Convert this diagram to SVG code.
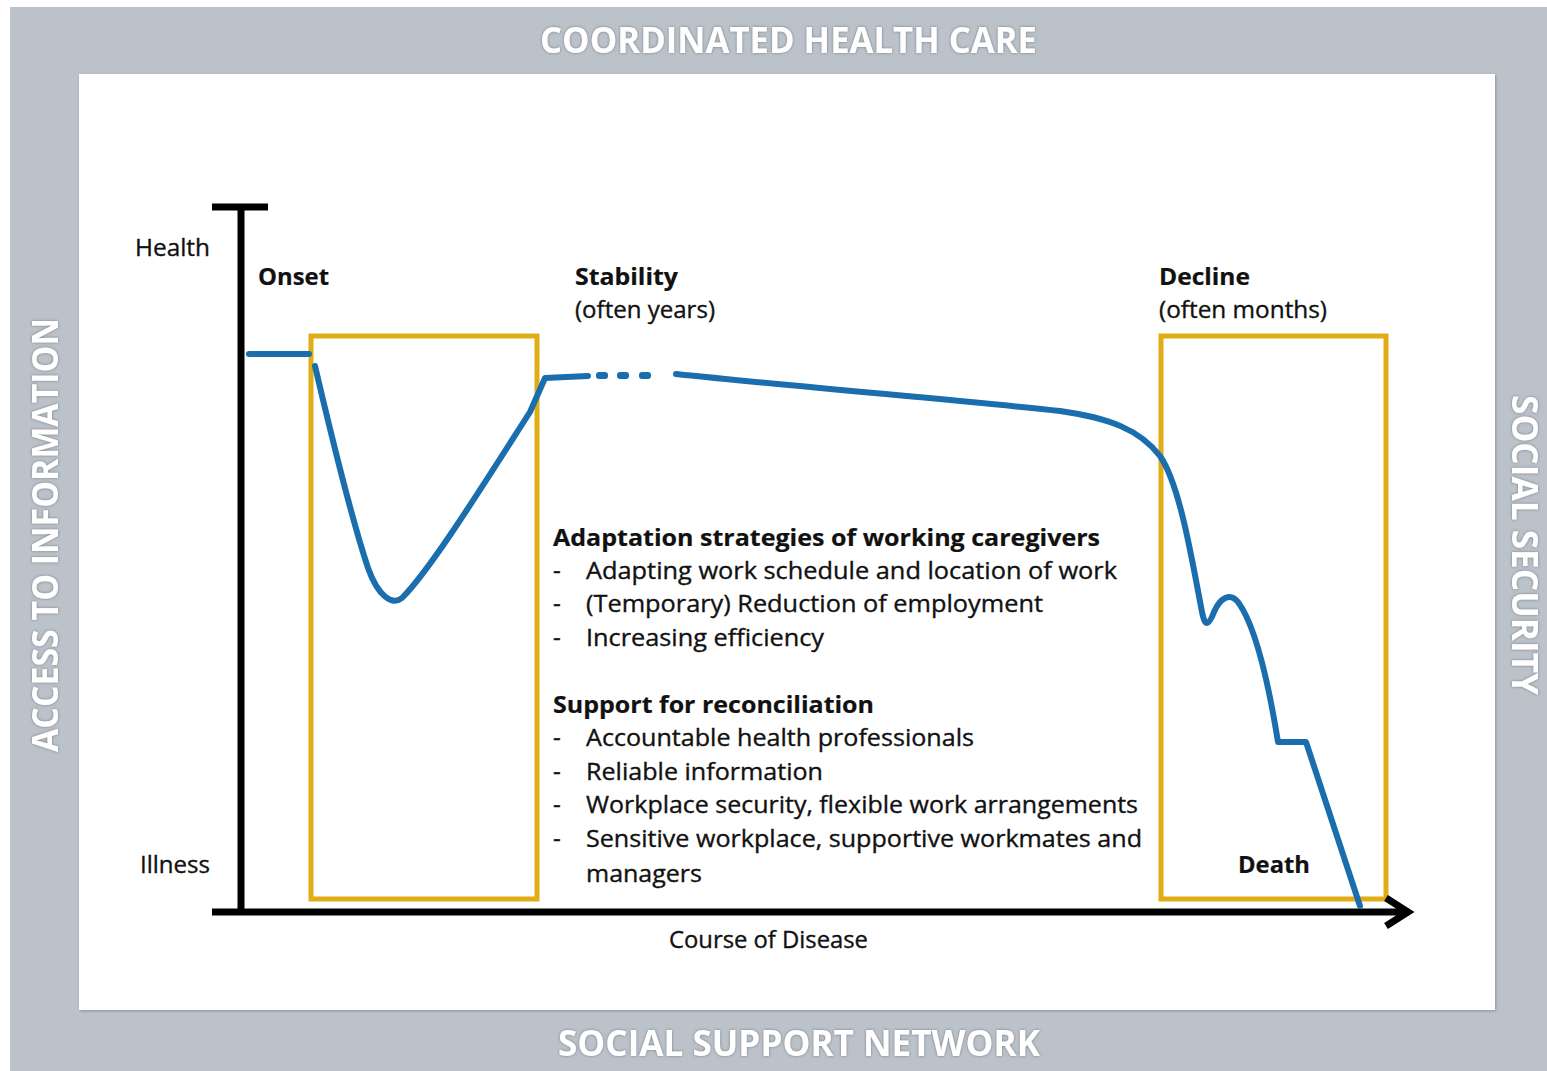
<svg xmlns="http://www.w3.org/2000/svg" width="1547" height="1071" viewBox="0 0 1547 1071">
  <style>
    .band { font-family: "Open Sans", "Noto Sans", "Liberation Sans", sans-serif; font-weight: 700; font-size: 36px; fill: #ffffff; }
    .lbl { font-family: "Open Sans", "Noto Sans", "Liberation Sans", sans-serif; font-size: 24px; fill: #111111; stroke: #111111; stroke-width: 0.35px; }
    .bold { font-weight: 700; stroke-width: 0.2px; }
    .box { fill: none; stroke: #e2ad14; stroke-width: 5; }
    .curve { fill: none; stroke: #1b6eae; stroke-width: 6; stroke-linecap: round; stroke-linejoin: round; }
    .axis { fill: none; stroke: #000000; stroke-width: 7; }
  </style>
  <defs>
    <filter id="glow" x="-10%" y="-40%" width="120%" height="180%">
      <feDropShadow dx="0" dy="0" stdDeviation="1.6" flood-color="#6f767d" flood-opacity="0.9"/>
    </filter>
    <filter id="panelShadow" x="-5%" y="-5%" width="110%" height="110%">
      <feDropShadow dx="1" dy="1" stdDeviation="1.5" flood-color="#7d848b" flood-opacity="0.8"/>
    </filter>
  </defs>

  <!-- page background and grey frame -->
  <rect x="0" y="0" width="1547" height="1071" fill="#ffffff"/>
  <rect x="10" y="7" width="1537" height="1064" fill="#bbc2ca"/>
  <rect x="79" y="74" width="1416" height="936" fill="#ffffff" filter="url(#panelShadow)"/>

  <!-- frame captions -->
  <g id="coordinated-health-care">
    <text class="band" x="540" y="53" textLength="497" lengthAdjust="spacingAndGlyphs" filter="url(#glow)">COORDINATED HEALTH CARE</text>
  </g>
  <g id="social-support-network">
    <text class="band" x="558" y="1056" textLength="482" lengthAdjust="spacingAndGlyphs" filter="url(#glow)">SOCIAL SUPPORT NETWORK</text>
  </g>
  <g id="access-to-information">
    <text class="band" transform="translate(58 752) rotate(-90)" x="0" y="0" textLength="434" lengthAdjust="spacingAndGlyphs" filter="url(#glow)">ACCESS TO INFORMATION</text>
  </g>
  <g id="social-security">
    <text class="band" transform="translate(1512 395) rotate(90)" x="0" y="0" textLength="300" lengthAdjust="spacingAndGlyphs" filter="url(#glow)">SOCIAL SECURITY</text>
  </g>

  <!-- phase boxes -->
  <g id="onset-box"><rect class="box" x="311" y="336" width="226" height="563"/></g>
  <g id="decline-box"><rect class="box" x="1161" y="336" width="225" height="563"/></g>

  <!-- axes -->
  <g id="axes">
    <line class="axis" x1="241" y1="204" x2="241" y2="912"/>
    <line class="axis" x1="212" y1="207" x2="268" y2="207"/>
    <line class="axis" x1="212" y1="912" x2="1405" y2="912"/>
    <polyline class="axis" points="1386,898 1408,912 1386,926" stroke-width="6"/>
  </g>

  <!-- course of health -->
  <g id="connectors">
    <line class="curve" x1="249" y1="354" x2="309" y2="354"/>
    <path class="curve" d="M315,366 C330,430 352,520 368,568 C378,596 392,606 402,598 C430,570 480,490 530,412 L545,378 L588,376"/>
    <g fill="#1b6eae">
      <rect x="596" y="372" width="12" height="7" rx="3"/>
      <rect x="617" y="372" width="12" height="7" rx="3"/>
      <rect x="639" y="372" width="12" height="7" rx="3"/>
    </g>
    <path class="curve" d="M676,374 C800,387 980,402 1060,411 C1110,418 1140,430 1160,456 C1180,485 1192,560 1202,612 C1205,628 1209,625 1214,612 C1220,598 1230,592 1238,602 C1255,625 1268,680 1278,742 L1306,742 L1360,906"/>
  </g>

  <!-- axis labels -->
  <g id="axis-labels">
    <text class="lbl" x="135" y="256" textLength="75" lengthAdjust="spacingAndGlyphs">Health</text>
    <text class="lbl" x="140" y="873" textLength="70" lengthAdjust="spacingAndGlyphs">Illness</text>
    <text class="lbl" x="669" y="948" textLength="199" lengthAdjust="spacingAndGlyphs">Course of Disease</text>
  </g>

  <!-- phase labels -->
  <g id="onset"><text class="lbl bold" x="258" y="285" textLength="71" lengthAdjust="spacingAndGlyphs">Onset</text></g>
  <g id="stability">
    <text class="lbl bold" x="575" y="285" textLength="103" lengthAdjust="spacingAndGlyphs">Stability</text>
    <text class="lbl" x="575" y="318" textLength="140" lengthAdjust="spacingAndGlyphs">(often years)</text>
  </g>
  <g id="decline">
    <text class="lbl bold" x="1159" y="285" textLength="91" lengthAdjust="spacingAndGlyphs">Decline</text>
    <text class="lbl" x="1159" y="318" textLength="168" lengthAdjust="spacingAndGlyphs">(often months)</text>
  </g>
  <g id="death"><text class="lbl bold" x="1238" y="873" textLength="72" lengthAdjust="spacingAndGlyphs">Death</text></g>

  <!-- strategies and support -->
  <g id="strategies">
    <text class="lbl bold" x="553" y="546" textLength="547" lengthAdjust="spacingAndGlyphs">Adaptation strategies of working caregivers</text>
    <text class="lbl" x="553" y="579">-</text>
    <text class="lbl" x="586" y="579" textLength="531" lengthAdjust="spacingAndGlyphs">Adapting work schedule and location of work</text>
    <text class="lbl" x="553" y="612">-</text>
    <text class="lbl" x="586" y="612" textLength="457" lengthAdjust="spacingAndGlyphs">(Temporary) Reduction of employment</text>
    <text class="lbl" x="553" y="646">-</text>
    <text class="lbl" x="586" y="646" textLength="238" lengthAdjust="spacingAndGlyphs">Increasing efficiency</text>
  </g>
  <g id="support">
    <text class="lbl bold" x="553" y="713" textLength="321" lengthAdjust="spacingAndGlyphs">Support for reconciliation</text>
    <text class="lbl" x="553" y="746">-</text>
    <text class="lbl" x="586" y="746" textLength="388" lengthAdjust="spacingAndGlyphs">Accountable health professionals</text>
    <text class="lbl" x="553" y="780">-</text>
    <text class="lbl" x="586" y="780" textLength="237" lengthAdjust="spacingAndGlyphs">Reliable information</text>
    <text class="lbl" x="553" y="813">-</text>
    <text class="lbl" x="586" y="813" textLength="552" lengthAdjust="spacingAndGlyphs">Workplace security, flexible work arrangements</text>
    <text class="lbl" x="553" y="847">-</text>
    <text class="lbl" x="586" y="847" textLength="556" lengthAdjust="spacingAndGlyphs">Sensitive workplace, supportive workmates and</text>
    <text class="lbl" x="586" y="882" textLength="116" lengthAdjust="spacingAndGlyphs">managers</text>
  </g>
</svg>
